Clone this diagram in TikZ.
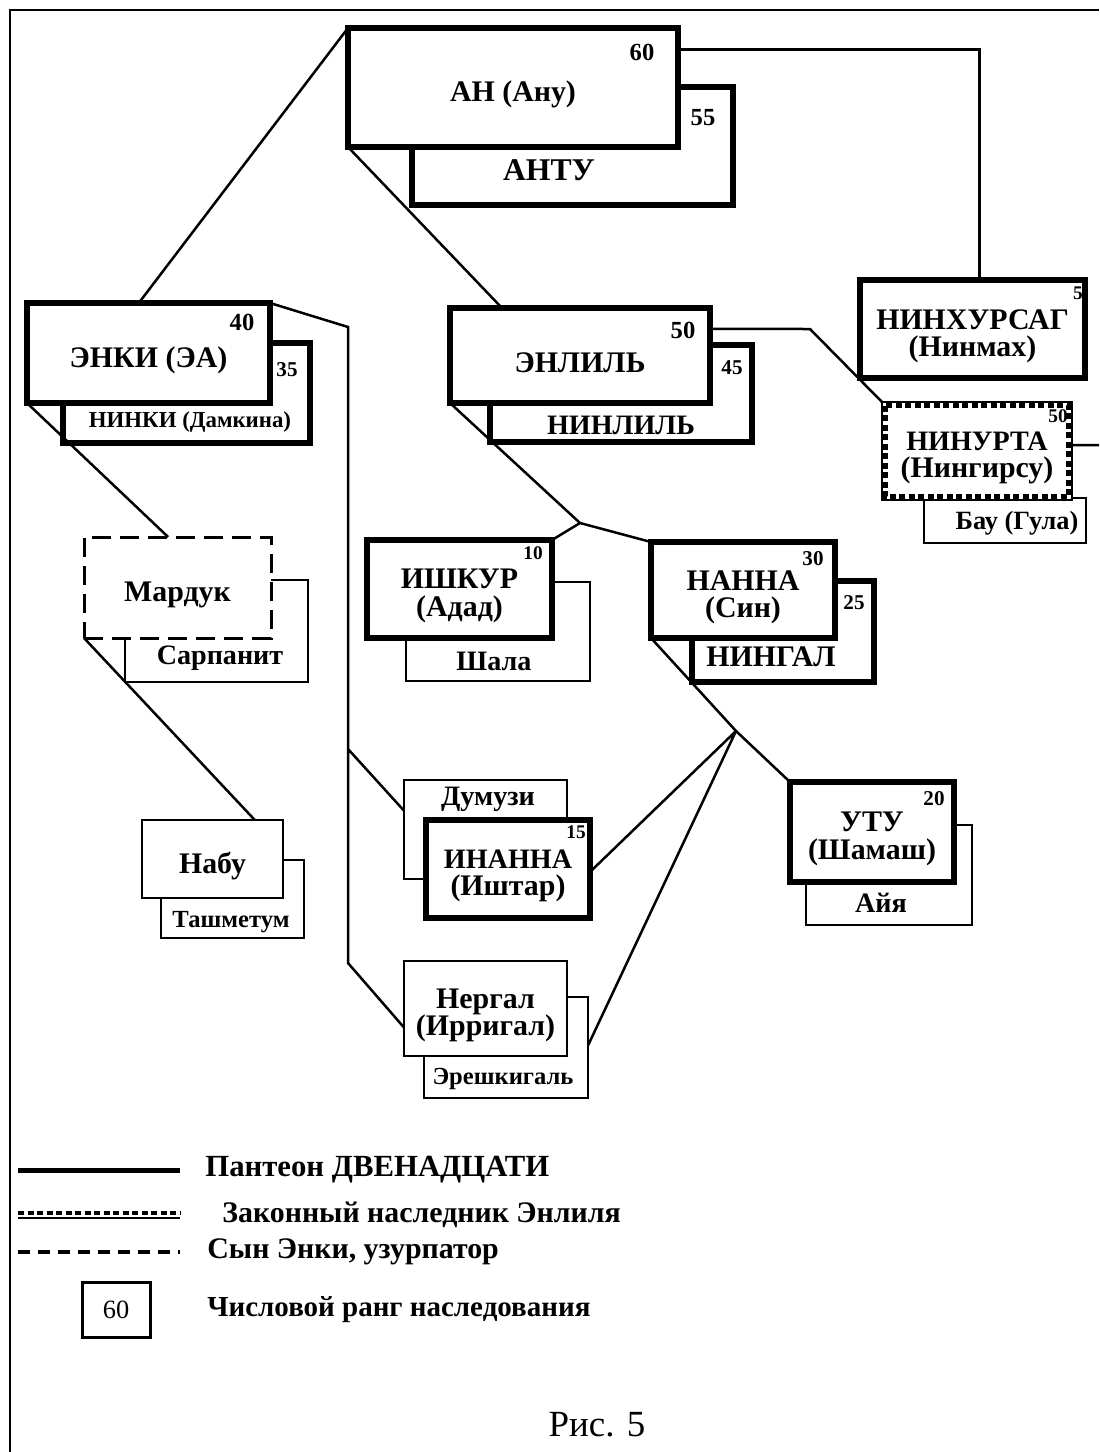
\documentclass[tikz,border=0pt]{standalone}
\usepackage{fontspec}
\setmainfont{Liberation Serif}
\usetikzlibrary{calc}
\tikzset{
	god/.style={draw,line width=1.1mm,fill=white,inner sep=0pt,outer sep=0pt},
	minor/.style={god,line width=.55mm},
	heir/.style={god,line width=.45mm},
	heirdash/.style={line width=.9mm,dash pattern=on 1.2mm off .7mm},
	usurper/.style={god,line width=.6mm,dash pattern=on 3.8mm off 1.8mm},
	wife/.style={draw,line width=.55mm,fill=white,inner sep=0pt,outer sep=0pt},
	thickwife/.style={wife,line width=1.1mm},
	godname/.style={inner sep=0pt,align=center,font=\fontsize{17}{15.5}\selectfont\bfseries},
	link/.style={line width=.5mm}
}
\begin{document}
\begin{tikzpicture}[x=.2mm,y=-.2mm]
	%Рис. 5 - родословная богов
	\useasboundingbox(0,0)rectangle(1099,1452);
	\draw[line width=.45mm](10,1452)--(10,10)--(1099,10);
	\foreach \n/\s/\xa/\ya/\xb/\yb/\tx/\ty/\f/\t in {ANTU/thickwife/412/87/733/205/549/170/18/АНТУ,NINKI/thickwife/63/343/310/443/190/422/13/{НИНКИ (Дамкина)},NINLIL/thickwife/490/345/752/442/621/425/16/НИНЛИЛЬ,BAU/wife/924/498/1086/543/1017/523/15/{Бау (Гула)},SHALA/wife/406/582/590/681/494/661/16/Шала,NINGAL/thickwife/692/581/874/682/771/657/17/НИНГАЛ,SARPANIT/wife/125/580/308/682/220/658/16/Сарпанит,TASHMETUM/wife/161/860/304/938/231/922/14/Ташметум,DUMUZI/wife/404/780/567/879/488/799/16/Думузи,AYYA/wife/806/825/972/925/881/903/16/Айя,ERESH/wife/424/997/588/1098/503/1079/14/Эрешкигаль}
	{\node[\s,minimum width=(\xb-\xa)*.2mm,minimum height=(\yb-\ya)*.2mm](\n)at({(\xa+\xb)/2},{(\ya+\yb)/2}){};
	\node[inner sep=0pt,font=\fontsize{\f}{\f}\selectfont\bfseries](\n-t)at(\tx,\ty){\t};}
	\foreach \n/\s/\xa/\ya/\xb/\yb/\t in {AN/god/348/28/678/147/{АН (Ану)},ENKI/god/27/303/270/403/{ЭНКИ (ЭА)},ENLIL/god/450/308/710/403/ЭНЛИЛЬ,NINHURSAG/god/860/280/1085/378/{НИНХУРСАГ\\(Нинмах)},NINURTA/heir/882/402/1072/500/{{\fontsize{16}{15.5}\selectfont НИНУРТА}\\(Нингирсу)},MARDUK/usurper/84/537/271/638/Мардук,ISHKUR/god/367/540/552/638/{ИШКУР\\(Адад)},NANNA/god/651/542/835/638/{НАННА\\(Син)},NABU/minor/142/820/283/898/Набу,INANNA/god/426/820/590/918/{{\fontsize{16}{15.5}\selectfont ИНАННА}\\(Иштар)},UTU/god/790/782/954/882/{УТУ\\(Шамаш)},NERGAL/minor/404/961/567/1056/{Нергал\\(Ирригал)}}
	{\node[\s,minimum width=(\xb-\xa)*.2mm,minimum height=(\yb-\ya)*.2mm](\n)at({(\xa+\xb)/2},{(\ya+\yb)/2}){};
	\node[godname](\n-t)at([yshift=-1.4mm]\n.center){\t};}
	\draw[heirdash]([shift={(.7mm,-.7mm)}]NINURTA.north west)rectangle([shift={(-.7mm,.7mm)}]NINURTA.south east);
	\foreach \r/\x/\y/\f [count=\i] in {60/642/52/14,55/703/118/14,50/683/330/14,45/732/368/12,40/242/322/14,35/287/370/12,5/1078/293/11,50/1058/416/11,10/533/553/11,30/813/559/12,25/854/603/12,15/576/832/11,20/934/799/12}
	\node[inner sep=0pt,font=\fontsize{\f}{\f}\selectfont\bfseries](rank\i)at(\x,\y){\r};
	\coordinate(v1)at(348,327);\coordinate(v2)at(348,749);\coordinate(v3)at(348,963);
	\coordinate(e1)at(810,329);\coordinate(j1)at(580,523);\coordinate(j2)at(736,731);\coordinate(out)at(1099,445);
	\draw[link](AN.north west)--($(ENKI.north west)!.46!(ENKI.north east)$);
	\draw[link](AN.south west)--($(ENLIL.north west)!.2!(ENLIL.north east)$);
	\draw[link]($(AN.north east)!.18!(AN.south east)$)-|($(NINHURSAG.north west)!.53!(NINHURSAG.north east)$);
	\draw[link](ENKI.north east)--(v1)--(v3)--($(NERGAL.north west)!.7!(NERGAL.south west)$) (v2)--($(DUMUZI.north west)!.31!(DUMUZI.south west)$);
	\draw[link](ENKI.south west)--($(MARDUK.north west)!.45!(MARDUK.north east)$);
	\draw[link](MARDUK.south west)--($(NABU.north west)!.8!(NABU.north east)$);
	\draw[link]($(ENLIL.north east)!.22!(ENLIL.south east)$)--(e1)--(NINURTA.north west);
	\draw[link]($(NINURTA.north east)!.44!(NINURTA.south east)$)--(out);
	\draw[link](ENLIL.south west)--(j1)--(ISHKUR.north east) (j1)--(NANNA.north west);
	\draw[link](NANNA.south west)--(j2)--(UTU.north west) (j2)--($(INANNA.north east)!.53!(INANNA.south east)$) (j2)--($(ERESH.north east)!.48!(ERESH.south east)$);
	%легенда
	\draw[line width=1mm](18,1170)--(180,1170);
	\draw[line width=.45mm](18,1218)--(180,1218);
	\draw[heirdash](18,1213)--(180,1213);
	\draw[line width=.8mm,dash pattern=on 2.4mm off 1.6mm](18,1252)--(180,1252);
	\node[draw,line width=.6mm,minimum width=13.6mm,minimum height=11mm,font=\fontsize{15}{15}\selectfont](key60)at(116,1310){60};
	\foreach \t/\x/\y/\f [count=\i] in {Пантеон ДВЕНАДЦАТИ/205/1170/17.5,Законный наследник Энлиля/222/1215/17,{Сын Энки, узурпатор}/207/1252/17,Числовой ранг наследования/207/1310/16.5}
	\node[anchor=west,inner sep=0pt,font=\fontsize{\f}{\f}\selectfont\bfseries](key\i)at(\x,\y){\t};
	\node[font=\fontsize{21}{21}\selectfont](fig)at(597,1425){Рис. 5};
\end{tikzpicture}
\end{document}
